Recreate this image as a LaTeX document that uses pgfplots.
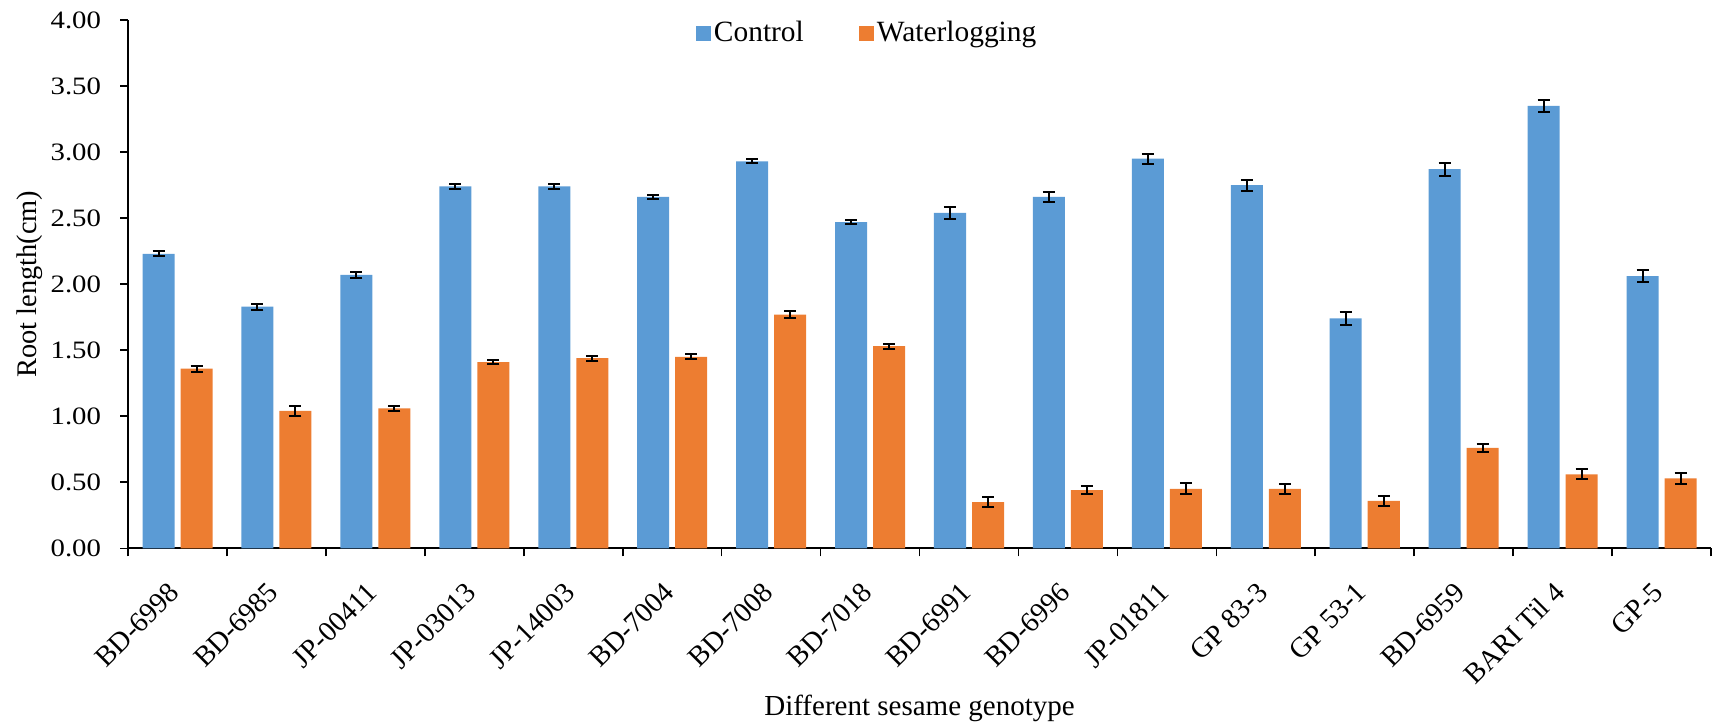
\documentclass[border=0pt]{standalone}
\usepackage{fontspec}
\setmainfont{Liberation Serif}
\newfontfamily\tickfont[FakeStretch=1.15]{Liberation Serif}
\usepackage{pgfplots}
\pgfplotsset{compat=1.18}
\usepackage{pgfplotstable}
\usetikzlibrary{calc}
\definecolor{cblue}{HTML}{5B9BD5}
\definecolor{corange}{HTML}{ED7D31}

\pgfplotstableread{
idx c ce w we
0 2.23 0.020 1.36 0.022
1 1.83 0.022 1.04 0.037
2 2.07 0.022 1.06 0.018
3 2.74 0.022 1.41 0.012
4 2.74 0.016 1.44 0.019
5 2.66 0.014 1.45 0.018
6 2.93 0.016 1.77 0.027
7 2.47 0.016 1.53 0.019
8 2.54 0.046 0.35 0.040
9 2.66 0.035 0.44 0.030
10 2.95 0.038 0.45 0.042
11 2.75 0.042 0.45 0.038
12 1.74 0.050 0.36 0.037
13 2.87 0.051 0.76 0.032
14 3.35 0.047 0.56 0.038
15 2.06 0.046 0.53 0.043
}\datatable

\begin{document}
\begin{tikzpicture}
\begin{axis}[
  scale only axis,
  width=791pt, height=264pt,
  ybar=3pt, bar width=16pt,
  xmin=-0.5, xmax=15.5,
  ymin=0, ymax=4,
  axis x line*=bottom, axis y line*=left,
  axis line style={line width=1pt},
  xtick={0,...,15},
  xticklabels={BD-6998,BD-6985,JP-00411,JP-03013,JP-14003,BD-7004,BD-7008,BD-7018,BD-6991,BD-6996,JP-01811,GP 83-3,GP 53-1,BD-6959,BARI Til 4,GP-5},
  major x tick style={draw=none},
  minor xtick={-0.5,0.5,...,15.5},
  minor tick length=4pt,
  minor x tick style={line width=0.8pt, black},
  ytick={0,0.5,...,4},
  major tick length=4pt,
  tick align=outside,
  y tick style={line width=0.8pt, black},
  /pgf/number format/assume math mode=true,
  y tick label style={/pgf/number format/fixed, /pgf/number format/fixed zerofill, /pgf/number format/precision=2, font=\tickfont\fontsize{12.5}{14}\selectfont, xshift=-6pt},
  xticklabel style={font=\fontsize{14.2}{16}\selectfont, xshift=-5pt, yshift=-10.5pt, rotate=45, anchor=north east, inner sep=1pt},
  ylabel={Root length(cm)},
  ylabel style={font=\fontsize{14.2}{16}\selectfont, at={(axis description cs:-0.062,0.5)}, anchor=center},
  xlabel={Different sesame genotype},
  xlabel style={font=\fontsize{14.5}{16}\selectfont, at={(axis description cs:0.5,0)}, yshift=-80pt, anchor=center},
  legend style={draw=none, fill=none, font=\fontsize{14.7}{16}\selectfont, at={(rel axis cs:0.3585,0.975)}, anchor=west, legend columns=2, /tikz/every even column/.append style={column sep=26pt}, inner sep=0pt, nodes={inner sep=1.5pt}},
  legend image code/.code={\fill[#1] (0pt,-3.75pt) rectangle (7.5pt,3.75pt);},
  error bars/error bar style={line width=1pt, black},
  error bars/error mark options={rotate=90, mark size=3pt, line width=1pt, black},
]
\addplot[fill=cblue, draw=none, error bars/.cd, y dir=both, y explicit] table[x=idx, y=c, y error=ce]{\datatable};
\addplot[fill=corange, draw=none, error bars/.cd, y dir=both, y explicit] table[x=idx, y=w, y error=we]{\datatable};
\legend{Control, Waterlogging}
\end{axis}
\pgfresetboundingbox
\path[use as bounding box] ($(current axis.south west)+(-64pt,-88pt)$) rectangle ($(current axis.north east)+(1.5pt,10pt)$);
\end{tikzpicture}
\end{document}
